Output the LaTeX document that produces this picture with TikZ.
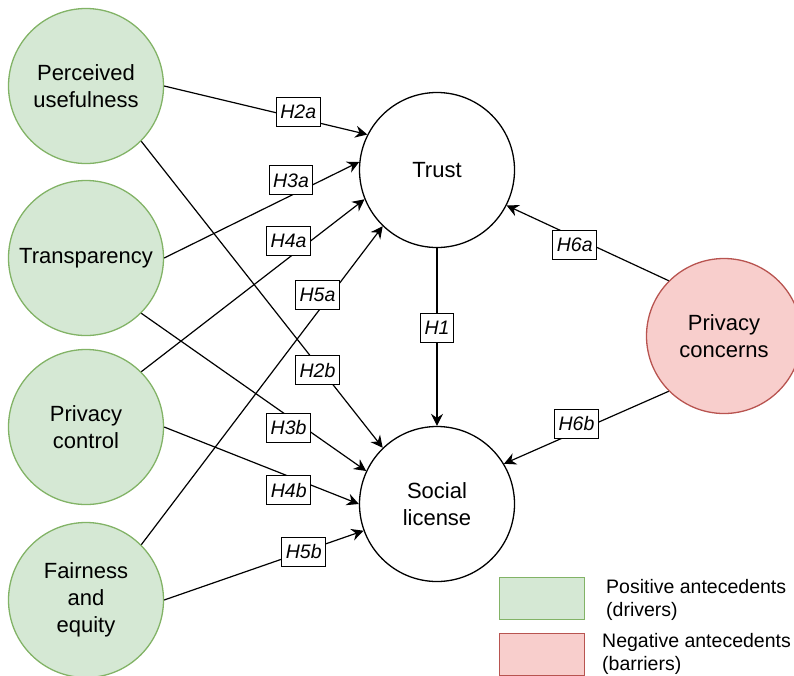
\documentclass[tikz,border=0pt]{standalone}
\usepackage{fontspec}
\setmainfont{Liberation Sans}
\usetikzlibrary{arrows.meta}
\definecolor{posfill}{HTML}{D5E8D4}
\definecolor{posline}{HTML}{82B366}
\definecolor{negfill}{HTML}{F8CECC}
\definecolor{negline}{HTML}{B85450}

\begin{document}
\begin{tikzpicture}[x=1pt, y=-1pt,
    construct/.style={circle, draw, line width=1.3pt, minimum size=155pt,
      inner sep=0pt, align=center, font=\fontsize{22}{27}\selectfont},
    driver/.style={construct, draw=posline, fill=posfill},
    barrier/.style={construct, draw=negline, fill=negfill},
    hyp/.style={draw, fill=white, line width=1pt, inner xsep=4pt,
      inner ysep=2pt, minimum height=29pt, font=\fontsize{19.5}{19.5}\selectfont\itshape},
    link/.style={-{Stealth[length=12pt,width=12pt,inset=4pt]}, line width=1.2pt},
    keybox/.style={line width=1pt, minimum width=85pt, minimum height=42pt, inner sep=0pt},
    keytext/.style={anchor=west, align=left, inner sep=0pt, font=\fontsize{19.5}{23}\selectfont}
  ]
  \useasboundingbox (0,0) rectangle (794,675);

  % constructs
  \node[driver] (pu) at (86,86) {Perceived\\usefulness};
  \node[driver] (tr) at (86,258) {Transparency};
  \node[driver] (pc) at (86,427) {Privacy\\control};
  \node[driver] (fe) at (86,600) {Fairness\\and\\equity};
  \node[construct] (trust) at (437,170) {Trust};
  \node[construct] (sl) at (437,504) {Social\\license};
  \node[barrier] (pcon) at (724,336) {Privacy\\concerns};

  % hypotheses
  \draw[link] (pu.east) -- node[hyp, pos=0.66, yshift=6pt] {H2a} (trust.153);
  \draw[link] (tr.east) -- node[hyp, pos=0.65, yshift=15pt] {H3a} (trust.174);
  \draw[link] (pc.45) -- node[hyp, pos=0.66, yshift=17pt] {H4a} (trust.202);
  \draw[link] (fe.45) -- node[hyp, pos=0.73, yshift=17pt] {H5a} (trust.226);
  \draw[link] (pu.-45) -- node[hyp, pos=0.73, yshift=-5pt] {H2b} (sl.134);
  \draw[link] (tr.-45) -- node[hyp, pos=0.655, yshift=-11pt] {H3b} (sl.155);
  \draw[link] (pc.east) -- node[hyp, pos=0.64, yshift=-14pt] {H4b} (sl.180);
  \draw[link] (fe.east) -- node[hyp, pos=0.70] {H5b} (sl.200);
  \draw[link] (trust.south) -- node[hyp, pos=0.45] {H1} (sl.north);
  \draw[link] (pcon.135) -- node[hyp, pos=0.58, yshift=-8pt] {H6a} (trust.-27);
  \draw[link] (pcon.225) -- node[hyp, pos=0.56, yshift=8pt] {H6b} (sl.31);

  % legend
  \node[keybox, draw=posline, fill=posfill] (poskey) at (541.5,598) {};
  \node[keybox, draw=negline, fill=negfill] (negkey) at (541.5,654.5) {};
  \node[keytext] (postext) at (606,599.5) {Positive antecedents\\(drivers)};
  \node[keytext] (negtext) at (602,654) {Negative antecedents\\(barriers)};
\end{tikzpicture}
\end{document}
